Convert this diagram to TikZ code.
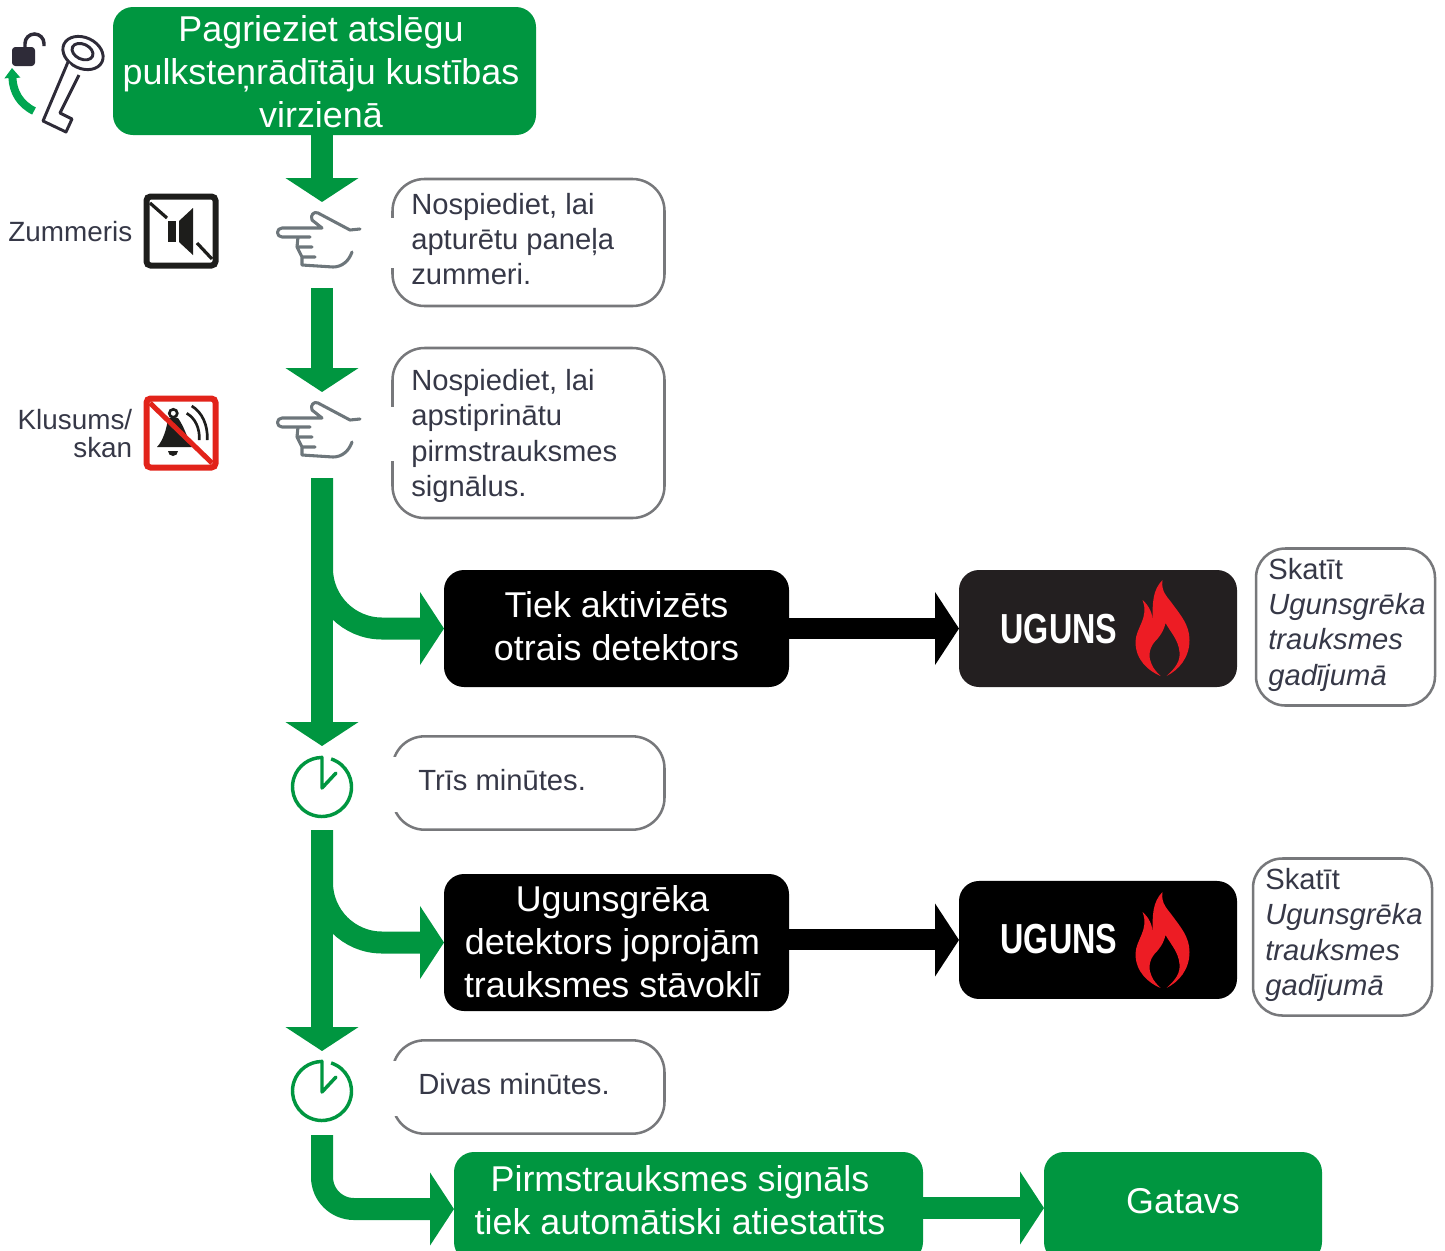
\documentclass[tikz,border=0pt]{standalone}
\usepackage{fontspec}
\setmainfont{Liberation Sans}
\newfontfamily\ugunsfont[FakeStretch=0.77]{Liberation Sans}
\usetikzlibrary{calc,arrows.meta,positioning}
\definecolor{flowgreen}{HTML}{009640}
\definecolor{keygreen}{HTML}{00A651}
\definecolor{notegray}{HTML}{77787B}
\definecolor{inkdark}{HTML}{363847}
\definecolor{lockdark}{HTML}{2E2B38}
\definecolor{handgray}{HTML}{6D767B}
\definecolor{firered}{HTML}{ED1C24}
\definecolor{bellred}{HTML}{E2231A}
\definecolor{ugunsdark}{HTML}{231F20}
\definecolor{iconblack}{HTML}{1D1D1B}

\begin{document}
\begin{tikzpicture}[x=0.75pt,y=-0.75pt]
	\tikzset{
		stepbox/.style={rectangle, rounded corners=15pt, inner sep=0pt, outer sep=0pt, align=center, text=white, font=\fontsize{26.9}{32.25}\selectfont},
		greenbox/.style={stepbox, fill=flowgreen},
		blackbox/.style={stepbox, fill=black},
		note/.style={draw=notegray, line width=1.9pt, rectangle, rounded corners=24pt, inner sep=0pt, outer sep=0pt, minimum width=204pt},
		seenote/.style={note, rounded corners=22pt, minimum width=134.25pt, minimum height=117.75pt},
		notetext/.style={anchor=west, align=left, inner sep=0pt, text=inkdark, font=\fontsize{21.9}{26.5}\selectfont},
		sidetext/.style={anchor=east, align=right, inner sep=0pt, text=inkdark, font=\fontsize{20.9}{21}\selectfont},
		ugunstext/.style={inner sep=0pt, text=white, font=\fontsize{31.5}{32}\ugunsfont\bfseries},
		whitetext/.style={inner sep=0pt, align=center, text=white, font=\fontsize{26.9}{32.25}\selectfont},
		spot/.style={inner sep=0pt, outer sep=0pt, minimum width=67.5pt, minimum height=64.5pt},
		iconbox/.style={rectangle, fill=white, line width=4.5pt, rounded corners=3pt, inner sep=0pt, minimum size=51.75pt},
		greenflow/.style={draw=flowgreen, line width=16.5pt, -{Triangle[width=54pt,length=18pt]}},
		blackflow/.style={draw=black, line width=15.75pt, -{Triangle[width=54pt,length=18pt]}},
		pics/pointhand/.style={code={
			\draw[handgray, line width=2.3pt, line cap=round, line join=round]
				(42,-10) -- (32,-9) -- (0,-26) .. controls (-4,-28) and (-8,-24) .. (-6,-19) -- (4,-11) -- (-36,-11)
				.. controls (-42,-11) and (-42,-2) .. (-36,-2) -- (-8,-2)
				(-20,-2) -- (-21,8) -- (-6,8)
				(-21,8) -- (-16,18) -- (-3,18)
				(-16,18) -- (-16,26) -- (15,28) .. controls (24,28) and (31,22) .. (34,13);
		}},
		pics/clockface/.style={code={
			\draw[flowgreen, line width=2.6pt] (-72:29.5) arc[start angle=-72, end angle=270, radius=29.5];
			\draw[flowgreen, line width=2.6pt, line cap=round, line join=round] (0,-30) -- (0,1) -- (14,-14);
		}},
		pics/flame/.style={code={
			\fill[firered] (0,-48) .. controls (-2,-36) and (6,-30) .. (10,-24) .. controls (18,-13) and (27,-3) .. (27,12)
				.. controls (27,30) and (16,42) .. (4,48) .. controls (13,40) and (18,33) .. (17,24)
				.. controls (16,12) and (8,4) .. (3,-5) .. controls (1,4) and (-4,10) .. (-8,14)
				.. controls (-14,21) and (-14,30) .. (-11,36) .. controls (-9,41) and (-5,45) .. (-2,48)
				.. controls (-14,43) and (-27,32) .. (-27,14) .. controls (-27,0) and (-13,-10) .. (-20,-28)
				.. controls (-13,-22) and (-10,-14) .. (-10,-8) .. controls (-10,-25) and (-10,-38) .. (0,-48) -- cycle;
		}},
	}
	\useasboundingbox (0,0) rectangle (1445,1250);
	\clip (0,0) rectangle (1445,1250);

	% flow column
	\node [greenbox, minimum width=317.25pt, minimum height=96pt] (start) at (324.5,71) {};
	\node [whitetext] (starttext) at ($(start)+(-3.5,1)$) {Pagrieziet atslēgu\\pulksteņrādītāju kustības\\virzienā};
	\node [spot] (hand1) at (322,245) {};
	\node [spot] (hand2) at (322,435) {};
	\node [spot, minimum height=63pt] (clock1) at (322,788) {};
	\node [spot, minimum height=63pt] (clock2) at (322,1093) {};

	\pic at ($(hand1)+(-4,-6)$) {pointhand};
	\pic at ($(hand2)+(-4,-6)$) {pointhand};
	\pic at ($(clock1)+(0,-1)$) {clockface};
	\pic at ($(clock2)+(0,-2)$) {clockface};

	% notes
	\node [note, minimum height=95.25pt] (note1) at (528.5,242.5) {};
	\node [note, minimum height=127.5pt] (note2) at (528.5,433) {};
	\node [note, minimum height=70pt] (note3) at (528.5,783) {};
	\node [note, minimum height=70pt] (note4) at (528.5,1087) {};
	\fill[white] (388,218) rectangle (400,268);
	\fill[white] (388,407) rectangle (400,461);
	\fill[white] (388,757) rectangle (400,812);
	\fill[white] (388,1061) rectangle (400,1116);
	\node [notetext] (note1text) at (411,239) {Nospiediet, lai\\apturētu paneļa\\zummeri.};
	\node [notetext] (note2text) at (411,436) {Nospiediet, lai\\apstiprinātu\\pirmstrauksmes\\signālus.};
	\node [notetext] (note3text) at (418,780) {Trīs minūtes.};
	\node [notetext] (note4text) at (418,1084) {Divas minūtes.};

	% outcome rows
	\node [blackbox, minimum width=258.75pt, minimum height=87.75pt] (second) at (616.5,628.5) {};
	\node [whitetext] (secondtext) at ($(second)+(0,-2)$) {Tiek aktivizēts\\otrais detektors};
	\node [blackbox, minimum width=208.5pt, minimum height=87.75pt, fill=ugunsdark, right=127.5pt of second] (uguns1) {};
	\node [ugunstext] (uguns1text) at ($(uguns1)+(-39,0.5)$) {UGUNS};
	\pic at ($(uguns1)+(64.5,-0.5)$) {flame};
	\node [seenote] (see1) at (1345.5,627) {};
	\node [notetext] (see1text) at (1268,624.5) {Skatīt\\\textit{Ugunsgrēka}\\\textit{trauksmes}\\\textit{gadījumā}};

	\node [blackbox, minimum width=258.75pt, minimum height=102.75pt] (still) at (616.5,942.5) {};
	\node [whitetext] (stilltext) at ($(still)+(-4,-1)$) {Ugunsgrēka\\detektors joprojām\\trauksmes stāvoklī};
	\node [blackbox, minimum width=208.5pt, minimum height=88.5pt, right=127.5pt of still, yshift=1.9pt] (uguns2) {};
	\node [ugunstext] (uguns2text) at ($(uguns2)+(-39,-1)$) {UGUNS};
	\pic at ($(uguns2)+(64.5,0)$) {flame};
	\node [seenote] (see2) at (1342.5,937) {};
	\node [notetext] (see2text) at (1265,935) {Skatīt\\\textit{Ugunsgrēka}\\\textit{trauksmes}\\\textit{gadījumā}};

	\node [greenbox, minimum width=351.75pt, minimum height=82.5pt] (reset) at (688.5,1207) {};
	\node [whitetext] (resettext) at (680,1200.5) {Pirmstrauksmes signāls\\tiek automātiski atiestatīts};
	\node [greenbox, minimum width=208.5pt, minimum height=82.5pt, right=90.75pt of reset] (ready) {};
	\node [whitetext] (readytext) at (1183,1201) {Gatavs};

	% connectors
	\draw[greenflow] (start.south -| hand1) -- (hand1.north);
	\draw[greenflow] (hand1) ++(0,43) -- (hand2.north);
	\draw[greenflow] (hand2.south) -- (clock1.north);
	\draw[greenflow, rounded corners=45pt] (hand2.south) |- (second.west);
	\draw[greenflow] (clock1.south) -- (clock2.north);
	\draw[greenflow, rounded corners=45pt] (clock1.south) |- (still.west);
	\draw[greenflow, rounded corners=24pt] (clock2.south) |- ($(reset.west)+(0,2)$);
	\draw[blackflow] (second.east) -- (uguns1.west);
	\draw[blackflow] (still.east |- uguns2) -- (uguns2.west);
	\draw[greenflow] ($(reset.east)+(0,1)$) -- ($(ready.west)+(0,1)$);

	% side icons
	\node [sidetext] (buzzer) at (132.5,232) {Zummeris};
	\node [iconbox, draw=iconblack] (buzzericon) at (181,231) {};
	\draw[iconblack, line width=2.4pt] ($(buzzericon)+(-31,-28)$) -- ++(17,15);
	\draw[iconblack, line width=2.4pt] ($(buzzericon)+(16,12)$) -- ++(15,16);
	\fill[iconblack] ($(buzzericon)+(-13,-10)$) rectangle ++(8,21);
	\fill[iconblack] ($(buzzericon)+(-2,-10)$) -- ++(14,-13) -- ++(0,47) -- ++(-14,-13) -- cycle;

	\node [sidetext] (silence) at (132.5,434) {Klusums/\\skan};
	\node [iconbox, draw=bellred] (bellicon) at (181,433) {};
	\begin{scope}[shift={(bellicon)}]
		\draw[iconblack, line width=2pt] (-7.7,-19.7) circle[radius=4];
		\fill[iconblack] (-13,-15) -- (-3,-15) .. controls (4,-5) and (6,5) .. (11,14) -- (-24,14) .. controls (-18,8) and (-14,-5) .. (-13,-15) -- cycle;
		\fill[iconblack] (-13,18) arc[start angle=180, end angle=0, radius=5] -- cycle;
		\draw[iconblack, line width=2pt] (5.7,-19.7) .. controls (14,-15) and (19,-5) .. (18.3,7);
		\draw[iconblack, line width=2pt] (10.7,-27) .. controls (21,-21) and (27,-8) .. (26.3,7);
		\draw[bellred, line width=3.75pt] (-31,-30) -- (31,30);
	\end{scope}

	% key and padlock
	\fill[lockdark, rounded corners=2.5pt] (12,47) rectangle (35,66);
	\draw[lockdark, line width=2.6pt] (25,48) -- (25,43.5) arc[start angle=180, end angle=360, radius=9.5] -- (44,46);
	\draw[keygreen, line width=6pt, -{Triangle[width=11.5pt,length=7.5pt]}] (34,111) .. controls (20,104) and (13,92) .. (12,68);
	\draw[lockdark, line width=2.2pt, rotate around={-25:(83,53)}] (83,53) circle[x radius=21, y radius=15.5];
	\draw[lockdark, line width=2.2pt, rotate around={-25:(83,53)}] (82,52) circle[x radius=11, y radius=7.5];
	\draw[lockdark, fill=white, line width=2.2pt, line join=round] (68,62) -- (43,121) -- (66,132) -- (72,119) -- (60,113) -- (79,75);
\end{tikzpicture}
\end{document}
